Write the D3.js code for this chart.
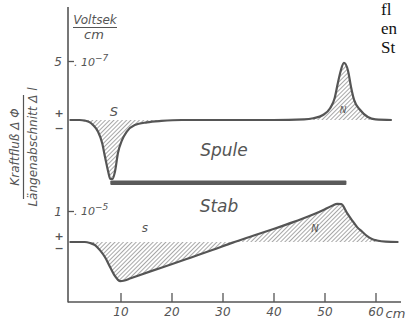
<!DOCTYPE html>
<html><head><meta charset="utf-8">
<script src="https://cdn.jsdelivr.net/npm/d3@7"></script>
<style>
html,body{margin:0;padding:0;background:#fff;}
svg{display:block;}
text{font-family:"DejaVu Sans",sans-serif;font-style:italic;fill:#555;}
text.body{font-family:"Liberation Serif",serif;font-style:normal;fill:#111;}
text.sign{font-style:normal;font-weight:bold;}
</style></head>
<body>
<svg id="c" width="408" height="324"></svg>
<script>
// ---- data ----
const xTicks = [10, 20, 30, 40, 50, 60];
const spuleX = [0, 2, 3, 4, 4.6, 5.6, 6.4, 7.0, 7.6, 8.0, 8.4, 8.9, 9.5, 10.3, 11.2, 12.8, 15.2, 18, 22, 30, 40, 46, 47.8, 49.7, 51.1, 52.0, 52.6, 53.2, 53.8, 54.6, 55.2, 55.8, 57, 58.5, 60, 63.2];
const spuleY = [0, 0, -0.05, -0.2, -0.42, -1.0, -1.95, -3.2, -4.4, -5.0, -5.0, -4.4, -2.8, -1.7, -1.0, -0.42, -0.2, -0.08, 0, 0, 0, 0.05, 0.15, 0.42, 1.0, 1.86, 3.1, 4.2, 4.85, 4.2, 2.8, 1.7, 0.85, 0.25, 0.05, 0];
const stabX = [0, 3, 4, 5, 6, 7, 8, 9, 9.5, 10, 10.6, 12, 16, 20, 24, 28, 32, 36, 40, 44, 48, 50, 51.5, 52.5, 53.3, 54.4, 55.4, 56.4, 57.4, 58.3, 59.3, 60.3, 62, 64.5];
const stabY = [0, 0, -0.03, -0.1, -0.27, -0.5, -0.82, -1.12, -1.22, -1.26, -1.25, -1.17, -0.94, -0.72, -0.49, -0.26, -0.02, 0.2, 0.42, 0.65, 0.9, 1.05, 1.17, 1.23, 1.22, 0.94, 0.7, 0.48, 0.33, 0.2, 0.1, 0.05, 0.01, 0];
const rodSpan = [8, 54.3];       // bar (Stab) extent in cm
const spuleTick = 5;             // 5 · 10^-7
const stabTick = 1;              // 1 · 10^-5
const bodyText = ["fl", "en", "St"];

const svg = d3.select("#c");
const ink = "#555";

// ---- scales ----
const x = d3.scaleLinear().domain([0, 65]).range([69.5, 401]);
const yU = d3.scaleLinear().domain([0, 5]).range([120, 61]);
const yL = d3.scaleLinear().domain([0, 1]).range([242, 211]);

// hatch pattern
const defs = svg.append("defs");
const pat = defs.append("pattern").attr("id", "hatch")
  .attr("patternUnits", "userSpaceOnUse").attr("width", 3).attr("height", 3)
  .attr("patternTransform", "rotate(45)");
pat.append("line").attr("x1", 0).attr("y1", 0).attr("x2", 0).attr("y2", 3)
  .attr("stroke", "#666").attr("stroke-width", 1.15);

// ---- axes ----
svg.append("line").attr("x1", 68).attr("x2", 68).attr("y1", 7).attr("y2", 302.5)
  .attr("stroke", ink).attr("stroke-width", 1.6);

const xAxis = d3.axisBottom(x).tickValues(xTicks).tickSize(-9).tickPadding(5)
  .tickFormat(d => d);
const gx = svg.append("g").attr("transform", "translate(0,302)").call(xAxis);
gx.select(".domain").attr("d", `M68,0H401`).attr("stroke", ink).attr("stroke-width", 1.6);
gx.selectAll(".tick line").attr("stroke", ink).attr("stroke-width", 1.3);
gx.selectAll(".tick text").attr("font-family", "DejaVu Sans")
  .attr("font-size", 12).attr("fill", ink);
svg.append("text").attr("x", x(60) + 10).attr("y", 317.5).attr("font-size", 13).text("cm");

// y ticks (to the right of axis)
const gU = svg.append("g").attr("transform", "translate(68,0)")
  .call(d3.axisRight(yU).tickValues([spuleTick]).tickSize(6).tickFormat(""));
gU.select(".domain").remove();
gU.selectAll(".tick line").attr("stroke", ink).attr("stroke-width", 1.3);
const gL = svg.append("g").attr("transform", "translate(68,0)")
  .call(d3.axisRight(yL).tickValues([stabTick]).tickSize(6).tickFormat(""));
gL.select(".domain").remove();
gL.selectAll(".tick line").attr("stroke", ink).attr("stroke-width", 1.3);

svg.append("text").attr("x", 62).attr("y", yU(spuleTick) + 4.5).attr("text-anchor", "end").attr("font-size", 12).text(spuleTick);
svg.append("text").attr("x", 62).attr("y", yL(stabTick) + 4.5).attr("text-anchor", "end").attr("font-size", 12).text(stabTick);
const e1 = svg.append("text").attr("x", 74).attr("y", yU(spuleTick) + 5).attr("font-size", 11);
e1.append("tspan").text(". 10");
e1.append("tspan").attr("dy", -5).attr("font-size", 9).text("−7");
const e2 = svg.append("text").attr("x", 74).attr("y", yL(stabTick) + 4).attr("font-size", 11);
e2.append("tspan").text(". 10");
e2.append("tspan").attr("dy", -5).attr("font-size", 9).text("−5");

// +/- signs
[[yU(0) - 7, "+"], [yU(0) + 8, "−"], [yL(0) - 6, "+"], [yL(0) + 6, "−"]].forEach(([yy, s]) => {
  svg.append("text").attr("class", "sign").attr("x", 59).attr("y", yy + 3.5).attr("text-anchor", "middle")
    .attr("font-size", 11).text(s);
});

// unit fraction Voltsek / cm
svg.append("text").attr("x", 95).attr("y", 24).attr("text-anchor", "middle").attr("font-size", 12).text("Voltsek");
svg.append("line").attr("x1", 73).attr("x2", 117).attr("y1", 27.5).attr("y2", 27.5).attr("stroke", ink).attr("stroke-width", 1.2);
svg.append("text").attr("x", 94).attr("y", 39).attr("text-anchor", "middle").attr("font-size", 13).text("cm");

// rotated y title
const yt = svg.append("g").attr("transform", "translate(0,147) rotate(-90)");
yt.append("text").attr("x", 0).attr("y", 19).attr("text-anchor", "middle").attr("font-size", 12).text("Kraftfluß Δ Φ");
yt.append("line").attr("x1", -52).attr("x2", 52).attr("y1", 23.5).attr("y2", 23.5).attr("stroke", ink).attr("stroke-width", 1.2);
yt.append("text").attr("x", 0).attr("y", 37).attr("text-anchor", "middle").attr("font-size", 12).text("Längenabschnitt Δ l");

// ---- curves ----
function drawCurve(xs, ys, yScale) {
  const pts = xs.map((d, i) => [d, ys[i]]);
  const area = d3.area().x(d => x(d[0])).y0(yScale(0)).y1(d => yScale(d[1])).curve(d3.curveMonotoneX);
  const line = d3.line().x(d => x(d[0])).y(d => yScale(d[1])).curve(d3.curveMonotoneX);
  svg.append("path").datum(pts).attr("d", area).attr("fill", "url(#hatch)");
  svg.append("path").datum(pts).attr("d", line).attr("fill", "none").attr("stroke", ink)
    .attr("stroke-width", 2.2).attr("stroke-linejoin", "round");
}
drawCurve(spuleX, spuleY, yU);
drawCurve(stabX, stabY, yL);

// rod bar
svg.append("rect").attr("x", x(rodSpan[0])).attr("width", x(rodSpan[1]) - x(rodSpan[0]))
  .attr("y", 180.5).attr("height", 4.5).attr("fill", "#5a5a5a").attr("rx", 1);

// labels
svg.append("text").attr("x", 114).attr("y", 116).attr("text-anchor", "middle").attr("font-size", 13).text("S");
svg.append("text").attr("x", 343).attr("y", 113).attr("text-anchor", "middle").attr("font-size", 9).attr("fill", "#444").text("N");
svg.append("text").attr("x", 224).attr("y", 156).attr("text-anchor", "middle").attr("font-size", 17).text("Spule");
svg.append("text").attr("x", 219).attr("y", 212).attr("text-anchor", "middle").attr("font-size", 17).text("Stab");
svg.append("text").attr("x", 145).attr("y", 232).attr("text-anchor", "middle").attr("font-size", 12).text("s");
svg.append("text").attr("x", 315).attr("y", 232).attr("text-anchor", "middle").attr("font-size", 10).attr("fill", "#444").text("N");

// clipped body text at top right
bodyText.forEach((t, i) => {
  svg.append("text").attr("class", "body").attr("x", 381).attr("y", 15 + i * 19)
    .attr("font-size", 17).text(t);
});
</script>
</body></html>
